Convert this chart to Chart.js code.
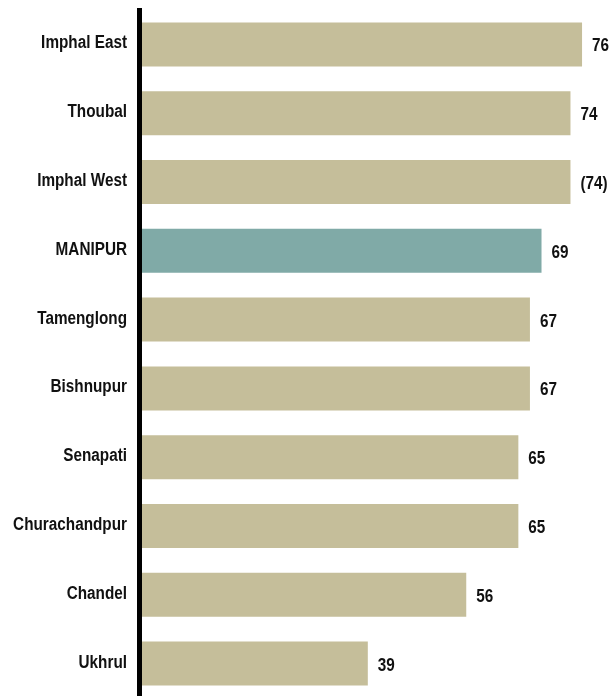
<!DOCTYPE html>
<html>
<head>
<meta charset="utf-8">
<title>Manipur districts</title>
<script src="https://cdn.jsdelivr.net/npm/chart.js@4.4.0/dist/chart.umd.min.js"></script>
<style>
  html, body { margin: 0; padding: 0; background: #fff; overflow: hidden; }
  #wrap { position: relative; width: 611px; height: 698px; }
</style>
</head>
<body>
<div id="wrap"><canvas id="districts"></canvas></div>
<script>
var districts = ['Imphal East', 'Thoubal', 'Imphal West', 'MANIPUR', 'Tamenglong',
                 'Bishnupur', 'Senapati', 'Churachandpur', 'Chandel', 'Ukhrul'];
var values = [76, 74, 74, 69, 67, 67, 65, 65, 56, 39];
// values shown in brackets
var bracketed = ['Imphal West'];
var stateRow = 'MANIPUR';

var TAN = '#c5be9a';
var TEAL = '#80aaa7';
var FONT = 'bold 18px "Liberation Sans", Arial, sans-serif';
var SQUEEZE = 0.85; // narrow the bold face horizontally

var barColors = districts.map(function (d) { return d === stateRow ? TEAL : TAN; });

function narrowText(ctx, txt, x, y, align) {
  ctx.save();
  ctx.translate(x, y);
  ctx.scale(SQUEEZE, 1);
  ctx.textAlign = align;
  ctx.fillText(txt, 0, 0);
  ctx.restore();
}

// thick black axis line on the left of the bars
var axisLine = {
  id: 'axisLine',
  beforeDatasetsDraw: function (chart) {
    var a = chart.chartArea, ctx = chart.ctx;
    ctx.save();
    ctx.fillStyle = '#000';
    ctx.fillRect(a.left - 5, a.top - 2, 5, a.bottom - a.top + 2);
    ctx.restore();
  }
};

// district names left of the axis, numbers at the end of each bar
var textLabels = {
  id: 'textLabels',
  afterDatasetsDraw: function (chart) {
    var ctx = chart.ctx;
    var yScale = chart.scales.y;
    var meta = chart.getDatasetMeta(0);
    ctx.save();
    ctx.font = FONT;
    ctx.fillStyle = '#111';
    ctx.textBaseline = 'middle';
    districts.forEach(function (name, i) {
      narrowText(ctx, name, chart.chartArea.left - 15, yScale.getPixelForTick(i) - 1, 'right');
    });
    meta.data.forEach(function (bar, i) {
      var txt = String(values[i]);
      if (bracketed.indexOf(districts[i]) >= 0) txt = '(' + txt + ')';
      narrowText(ctx, txt, bar.x + 10, bar.y + 2, 'left');
    });
    ctx.restore();
  }
};

new Chart(document.getElementById('districts'), {
  type: 'bar',
  data: {
    labels: districts,
    datasets: [{
      data: values,
      backgroundColor: barColors,
      borderWidth: 0,
      categoryPercentage: 1,
      barPercentage: 0.64
    }]
  },
  options: {
    indexAxis: 'y',
    responsive: true,
    maintainAspectRatio: false,
    animation: false,
    layout: { padding: { top: 10, bottom: 0, left: 0, right: 0 } },
    plugins: {
      legend: { display: false },
      tooltip: { enabled: false }
    },
    scales: {
      x: {
        display: false,
        min: 0,
        max: 81
      },
      y: {
        grid: { display: false, drawTicks: false },
        border: { display: false },
        ticks: { display: false },
        afterFit: function (scale) {
          scale.width = 142;
          scale.paddingTop = 0;
          scale.paddingBottom = 0;
        }
      }
    }
  },
  plugins: [axisLine, textLabels]
});
</script>
</body>
</html>
